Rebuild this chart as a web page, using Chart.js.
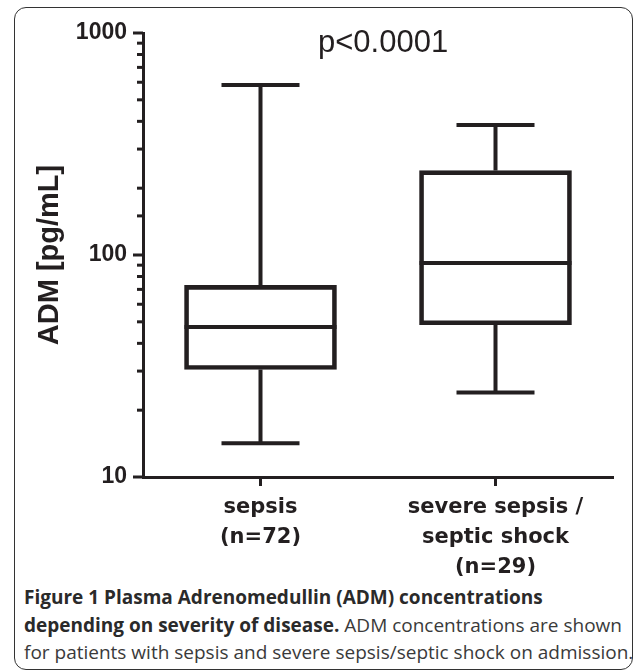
<html>
<head>
    <script src="https://cdn.jsdelivr.net/npm/chart.js"></script>
    <style>
        body { margin: 0; background: white; width: 633px; height: 672px; overflow: hidden; position: relative; font-family: "Liberation Sans", Arial, sans-serif; }
        .frame { position: absolute; left: 14px; top: 7px; width: 619px; height: 663px; border: 1.5px solid #333; border-radius: 12px; box-sizing: border-box; }
        #chart { position: absolute; left: 0; top: 0; }
        .pval { position: absolute; left: 318px; top: 22px; font-size: 31px; color: #231f20; line-height: 40px; white-space: nowrap; }
        .caption { position: absolute; left: 24px; top: 584px; font-family: "Open Sans", sans-serif; font-size: 19px; line-height: 27.5px; color: #3a3a3a; white-space: nowrap; }
        .caption b { color: #2a2a2a; }
    </style>
</head>
<body>
    <div class="frame"></div>
    <canvas id="chart" width="633" height="580"></canvas>
    <div class="pval">p&lt;0.0001</div>
    <div class="caption">
        <b>Figure 1 Plasma Adrenomedullin (ADM) concentrations</b><br>
        <b>depending on severity of disease.</b> ADM concentrations are shown<br>
        for patients with sepsis and severe sepsis/septic shock on admission.
    </div>

    <script>
        // data (pg/mL)
        const groups = [['sepsis', '(n=72)'], ['severe sepsis /', 'septic shock', '(n=29)']];
        const whiskerLow = [14.2, 24];
        const q1 = [30.5, 48.5];
        const median = [47.4, 92];
        const q3 = [73, 240];
        const whiskerHigh = [583, 385];
        const yTickLabels = [10, 100, 1000];

        const ink = '#231f20';

        // whiskers, caps, medians and axis tick marks
        const boxExtras = {
            id: 'boxExtras',
            afterDatasetsDraw(chart) {
                const ctx = chart.ctx;
                const x = chart.scales.x, y = chart.scales.y;
                const bars = chart.getDatasetMeta(0).data;
                ctx.save();
                ctx.strokeStyle = ink;
                ctx.lineWidth = 4;
                ctx.lineCap = 'butt';
                bars.forEach((bar, i) => {
                    const cx = x.getPixelForValue(i);
                    const half = bar.width / 2;
                    ctx.beginPath();
                    ctx.moveTo(cx, y.getPixelForValue(q3[i]));
                    ctx.lineTo(cx, y.getPixelForValue(whiskerHigh[i]));
                    ctx.moveTo(cx, y.getPixelForValue(q1[i]));
                    ctx.lineTo(cx, y.getPixelForValue(whiskerLow[i]));
                    ctx.moveTo(cx - 39, y.getPixelForValue(whiskerHigh[i]));
                    ctx.lineTo(cx + 39, y.getPixelForValue(whiskerHigh[i]));
                    ctx.moveTo(cx - 39, y.getPixelForValue(whiskerLow[i]));
                    ctx.lineTo(cx + 39, y.getPixelForValue(whiskerLow[i]));
                    ctx.moveTo(bar.x - half, y.getPixelForValue(median[i]));
                    ctx.lineTo(bar.x + half, y.getPixelForValue(median[i]));
                    ctx.stroke();
                });
                // tick marks
                ctx.lineWidth = 3;
                y.ticks.forEach(t => {
                    const py = y.getPixelForValue(t.value);
                    const len = yTickLabels.includes(t.value) ? 10 : 6;
                    ctx.beginPath();
                    ctx.moveTo(chart.chartArea.left - len, py);
                    ctx.lineTo(chart.chartArea.left, py);
                    ctx.stroke();
                });
                x.ticks.forEach((t, i) => {
                    const px = x.getPixelForValue(i);
                    ctx.beginPath();
                    ctx.moveTo(px, chart.chartArea.bottom);
                    ctx.lineTo(px, chart.chartArea.bottom + 9);
                    ctx.stroke();
                });
                ctx.restore();
            }
        };

        new Chart(document.getElementById('chart').getContext('2d'), {
            type: 'bar',
            data: {
                labels: groups,
                datasets: [{
                    data: q1.map((v, i) => [v, q3[i]]),
                    backgroundColor: 'rgba(255,255,255,0)',
                    borderColor: ink,
                    borderWidth: 4,
                    borderSkipped: false,
                    barThickness: 152
                }]
            },
            options: {
                responsive: false,
                animation: false,
                devicePixelRatio: 1,
                layout: { padding: { left: 0, top: 33, right: 20, bottom: 0 } },
                plugins: { legend: { display: false }, tooltip: { enabled: false } },
                scales: {
                    x: {
                        offset: true,
                        afterFit: s => { s.height = 103; },
                        grid: { display: true, drawOnChartArea: false, drawTicks: false },
                        border: { display: true, color: ink, width: 3 },
                        ticks: {
                            color: ink,
                            padding: 16,
                            maxRotation: 0,
                            autoSkip: false,
                            font: { family: 'DejaVu Sans', weight: 'bold', size: 21, lineHeight: 1.42 }
                        }
                    },
                    y: {
                        type: 'logarithmic',
                        min: 10,
                        max: 1000,
                        afterFit: s => { s.width = 143; },
                        grid: { display: true, drawOnChartArea: false, drawTicks: false },
                        border: { display: true, color: ink, width: 3 },
                        ticks: {
                            color: ink,
                            padding: 16,
                            autoSkip: false,
                            font: { family: 'Liberation Sans', weight: 'bold', size: 23 },
                            callback: v => yTickLabels.includes(v) ? String(v) : ''
                        },
                        title: {
                            display: true,
                            text: 'ADM [pg/mL]',
                            color: ink,
                            padding: { top: 33, bottom: 0 },
                            font: { family: 'Liberation Sans', weight: 'bold', size: 29 }
                        }
                    }
                }
            },
            plugins: [boxExtras]
        });
    </script>
</body>
</html>
